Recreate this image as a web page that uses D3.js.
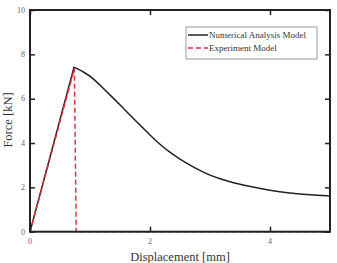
<!DOCTYPE html>
<html><head><meta charset="utf-8">
<script src="https://cdn.jsdelivr.net/npm/d3@7"></script>
<style>body{margin:0;background:#fff}svg{display:block}</style>
</head><body>
<script>
const numX = [0, 0.733, 0.888, 1.055, 1.22, 1.39, 1.667, 1.833, 2.0, 2.167, 2.33, 2.5, 2.67, 2.83, 3.0, 3.17, 3.33, 3.5, 3.67, 4.0, 4.33, 4.67, 5.0];
const numY = [0, 7.42, 7.22, 6.92, 6.47, 6.02, 5.26, 4.81, 4.36, 3.93, 3.58, 3.27, 3.0, 2.76, 2.54, 2.38, 2.25, 2.14, 2.04, 1.86, 1.74, 1.66, 1.61];
const expX = [0, 0.74, 0.77, 5.0];
const expY = [0, 7.35, 0, 0];
const xTicks = [0, 2, 4];
const yTicks = [0, 2, 4, 6, 8, 10];
const seriesNames = ["Numerical Analysis Model", "Experiment Model"];

const W = 337, H = 263;
const m = {l: 30, r: 7, t: 10, b: 31.3};
const svg = d3.select("body").append("svg").attr("width", W).attr("height", H);
const x = d3.scaleLinear().domain([0, 5]).range([m.l, W - m.r]);
const y = d3.scaleLinear().domain([0, 10]).range([H - m.b, m.t]);
const font = "'Liberation Serif','DejaVu Serif',serif";

const numData = numX.map((v, i) => [v, numY[i]]);
const expData = expX.map((v, i) => [v, expY[i]]);

// rising part straight, softening part smooth
const smooth = d3.line().x(d => x(d[0])).y(d => y(d[1])).curve(d3.curveBasis);
const numPath = `M${x(numData[0][0])},${y(numData[0][1])}L` + smooth(numData.slice(1)).slice(1);
svg.append("path").attr("d", numPath)
  .attr("fill", "none").attr("stroke", "#222").attr("stroke-width", 1.5);
svg.append("path").datum(expData).attr("d", d3.line().x(d => x(d[0])).y(d => y(d[1])))
  .attr("fill", "none").attr("stroke", "#e0303c").attr("stroke-width", 1.5)
  .attr("stroke-dasharray", "5,3");

// frame
svg.append("rect").attr("x", x(0)).attr("y", y(10)).attr("width", x(5) - x(0)).attr("height", y(0) - y(10))
  .attr("fill", "none").attr("stroke", "#222").attr("stroke-width", 2);

const tk = 5;
const gL = svg.append("g").attr("transform", `translate(${x(0)},0)`)
  .call(d3.axisRight(y).tickValues(yTicks).tickSize(tk).tickFormat(""));
const gR = svg.append("g").attr("transform", `translate(${x(5)},0)`)
  .call(d3.axisLeft(y).tickValues(yTicks).tickSize(tk).tickFormat(""));
const gB = svg.append("g").attr("transform", `translate(0,${y(0)})`)
  .call(d3.axisTop(x).tickValues(xTicks).tickSize(tk).tickFormat(""));
const gT = svg.append("g").attr("transform", `translate(0,${y(10)})`)
  .call(d3.axisBottom(x).tickValues(xTicks).tickSize(tk).tickFormat(""));
[gL, gR, gB, gT].forEach(g => {
  g.select(".domain").remove();
  g.selectAll("line").attr("stroke", "#222").attr("stroke-width", 1.5);
});

// tick labels
svg.append("g").selectAll("text").data(yTicks).join("text")
  .attr("x", x(0) - 5).attr("y", d => y(d)).attr("dy", "0.35em")
  .attr("text-anchor", "end").attr("font-family", font).attr("font-size", 8)
  .attr("fill", "#666").text(d => d);
svg.append("g").selectAll("text").data(xTicks).join("text")
  .attr("x", d => x(d)).attr("y", y(0) + 12)
  .attr("text-anchor", "middle").attr("font-family", font).attr("font-size", 8)
  .attr("fill", "#666").text(d => d);

// axis titles
svg.append("text").attr("x", 180).attr("y", 261).attr("text-anchor", "middle")
  .attr("font-family", font).attr("font-size", 12.5).attr("fill", "#333").text("Displacement [mm]");
svg.append("text").attr("transform", `translate(12,120) rotate(-90)`).attr("text-anchor", "middle")
  .attr("font-family", font).attr("font-size", 12.5).attr("fill", "#333").text("Force [kN]");

// legend
const lg = svg.append("g");
lg.append("rect").attr("x", 186).attr("y", 27).attr("width", 131).attr("height", 32)
  .attr("fill", "#fff").attr("stroke", "#999").attr("stroke-width", 1);
const legStyles = [{c: "#222", d: null}, {c: "#e0303c", d: "5,3"}];
seriesNames.forEach((n, i) => {
  const yy = 35 + i * 13;
  const l = lg.append("line").attr("x1", 188).attr("x2", 208).attr("y1", yy).attr("y2", yy)
    .attr("stroke", legStyles[i].c).attr("stroke-width", 1.5);
  if (legStyles[i].d) l.attr("stroke-dasharray", legStyles[i].d);
  lg.append("text").attr("x", 209).attr("y", yy).attr("dy", "0.35em")
    .attr("font-family", font).attr("font-size", 9).attr("fill", "#333").text(n);
});
</script>
</body></html>
